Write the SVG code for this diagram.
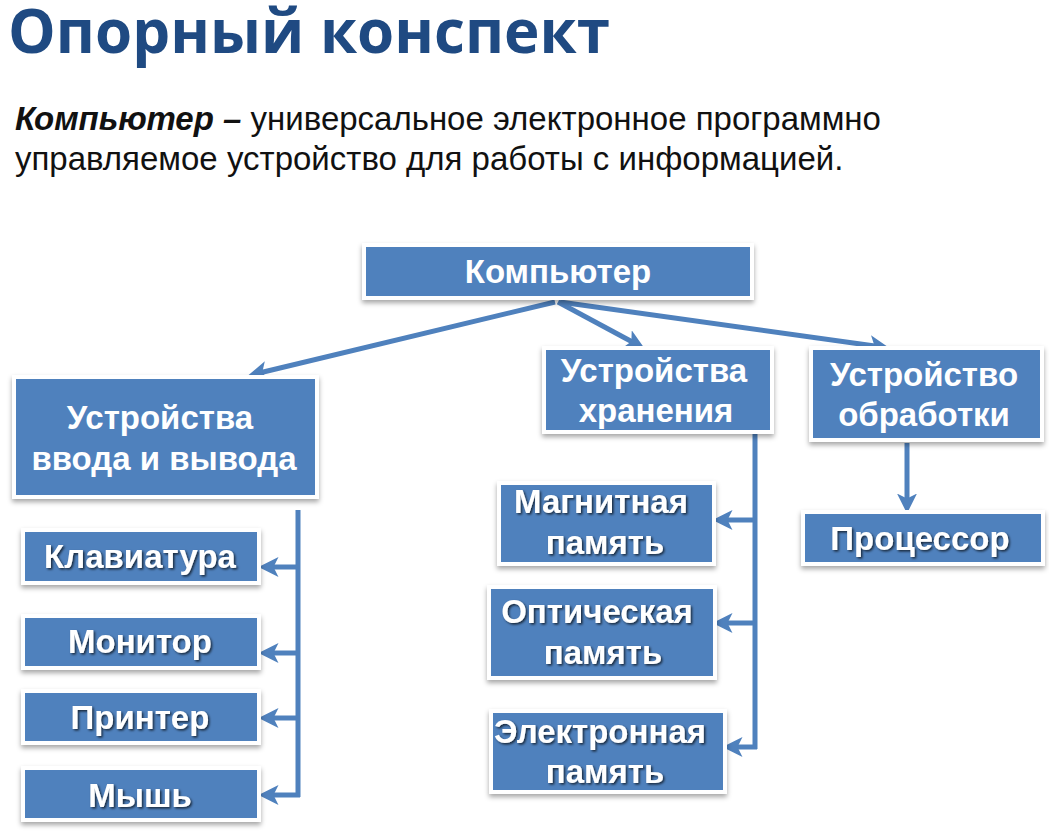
<svg xmlns="http://www.w3.org/2000/svg" width="1049" height="831" viewBox="0 0 1049 831">
<style>
.title{font-family:"Open Sans","Liberation Sans",sans-serif;font-weight:700;font-size:61px;fill:#1f4a82}
.def{font-family:"Liberation Sans",Arial,sans-serif;font-size:33px;fill:#111}
.box{fill:#4f81bd;stroke:#ffffff;stroke-width:4;filter:url(#sh)}
.t{font-family:"Liberation Sans",Arial,sans-serif;font-weight:700;font-size:33px;fill:#fff;text-anchor:middle}
.ts{filter:url(#tsh)}
.c{stroke:#4f81bd;stroke-width:5;fill:none}
</style>
<defs>
<filter id="sh" x="-10%" y="-20%" width="120%" height="150%"><feDropShadow dx="0" dy="3" stdDeviation="2.5" flood-color="#000" flood-opacity="0.35"/></filter>
<filter id="tsh" x="-10%" y="-30%" width="120%" height="160%"><feDropShadow dx="1.5" dy="1.5" stdDeviation="1" flood-color="#000" flood-opacity="0.7"/></filter>
<marker id="ah" markerWidth="4" markerHeight="4" refX="2.5" refY="2" orient="auto" markerUnits="strokeWidth"><path d="M0,0 L4,2 L0,4 L1,2 Z" fill="#4f81bd"/></marker>
</defs>
<rect width="1049" height="831" fill="#fff"/>
<text class="title" x="8" y="53" textLength="602" lengthAdjust="spacingAndGlyphs">Опорный конспект</text>
<text class="def" x="15" y="130"><tspan font-weight="700" font-style="italic">Компьютер –</tspan> универсальное электронное программно</text>
<text class="def" x="15" y="170">управляемое устройство для работы с информацией.</text>
<g id="connectors">
<line class="c" x1="555" y1="302" x2="255" y2="374" marker-end="url(#ah)"/>
<line class="c" x1="558" y1="302" x2="638" y2="345" marker-end="url(#ah)"/>
<line class="c" x1="560" y1="302" x2="882" y2="347" marker-end="url(#ah)"/>
<polyline class="c" points="298,510 298,797"/>
<line class="c" x1="298" y1="567" x2="266" y2="567" marker-end="url(#ah)"/>
<line class="c" x1="298" y1="653" x2="266" y2="653" marker-end="url(#ah)"/>
<line class="c" x1="298" y1="718" x2="266" y2="718" marker-end="url(#ah)"/>
<line class="c" x1="300" y1="795" x2="266" y2="795" marker-end="url(#ah)"/>
<polyline class="c" points="755,434 755,749"/>
<line class="c" x1="755" y1="520" x2="720" y2="520" marker-end="url(#ah)"/>
<line class="c" x1="755" y1="623" x2="720" y2="623" marker-end="url(#ah)"/>
<line class="c" x1="757" y1="747" x2="730" y2="747" marker-end="url(#ah)"/>
<line class="c" x1="907" y1="443" x2="907" y2="506" marker-end="url(#ah)"/>
</g>
<g id="n-computer"><rect class="box" x="364" y="245" width="388" height="53"/><text class="t" x="558" y="283">Компьютер</text></g>
<g id="n-io"><rect class="box" x="14" y="377" width="303" height="120"/><text class="t" x="160" y="429">Устройства</text><text class="t" x="164" y="470">ввода и вывода</text></g>
<g id="n-storage"><rect class="box" x="544" y="348" width="228" height="84"/><text class="t" x="654" y="382">Устройства</text><text class="t" x="656" y="422">хранения</text></g>
<g id="n-proc"><rect class="box" x="811" y="348" width="231" height="92"/><text class="t" x="924" y="386">Устройство</text><text class="t" x="924" y="426">обработки</text></g>
<g id="n-kbd"><rect class="box" x="23" y="530" width="236" height="53"/><text class="t ts" x="140" y="568">Клавиатура</text></g>
<g id="n-mon"><rect class="box" x="23" y="616" width="236" height="52"/><text class="t ts" x="140" y="653">Монитор</text></g>
<g id="n-prn"><rect class="box" x="23" y="691" width="236" height="52"/><text class="t ts" x="140" y="729">Принтер</text></g>
<g id="n-mouse"><rect class="box" x="23" y="768" width="236" height="52"/><text class="t ts" x="140" y="807">Мышь</text></g>
<g id="n-mag"><rect class="box" x="499" y="483" width="215" height="81"/><text class="t ts" x="601" y="513">Магнитная</text><text class="t ts" x="605" y="554">память</text></g>
<g id="n-opt"><rect class="box" x="489" y="587" width="226" height="91"/><text class="t ts" x="597" y="623">Оптическая</text><text class="t ts" x="603" y="664">память</text></g>
<g id="n-el"><rect class="box" x="491" y="711" width="234" height="81"/><text class="t ts" x="600" y="743">Электронная</text><text class="t ts" x="605" y="783">память</text></g>
<g id="n-cpu"><rect class="box" x="803" y="512" width="240" height="52"/><text class="t ts" x="920" y="550">Процессор</text></g>
</svg>
